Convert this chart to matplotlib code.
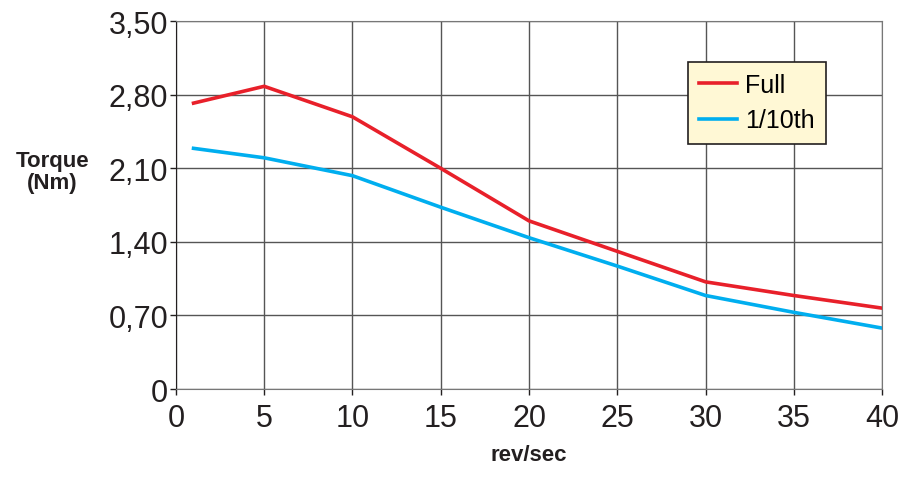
import matplotlib

matplotlib.use("Agg")
import matplotlib.pyplot as plt

# speed (rev/sec) and torque (Nm)
speed = [1, 5, 10, 15, 20, 25, 30, 35, 40]
torque_full = [2.72, 2.88, 2.59, 2.10, 1.60, 1.31, 1.02, 0.89, 0.77]
torque_tenth = [2.29, 2.20, 2.03, 1.73, 1.44, 1.17, 0.89, 0.73, 0.58]

x_ticks = [0, 5, 10, 15, 20, 25, 30, 35, 40]
y_ticks = [0, 0.70, 1.40, 2.10, 2.80, 3.50]
y_tick_labels = ["0", "0,70", "1,40", "2,10", "2,80", "3,50"]

plt.rcParams["font.family"] = ["Liberation Sans", "DejaVu Sans"]

fig = plt.figure(figsize=(9.02, 4.81), dpi=100)
ax = fig.add_axes([0.195, 0.189, 0.783, 0.765])

ax.plot(speed, torque_full, color="#e8202a", linewidth=2.6, label="Full")
ax.plot(speed, torque_tenth, color="#00aeef", linewidth=2.6, label="1/10th")

ax.set_xlim(0, 40)
ax.set_ylim(0, 3.5)
ax.set_xticks(x_ticks)
ax.set_yticks(y_ticks)
ax.set_yticklabels(y_tick_labels)
ax.tick_params(axis="both", labelsize=22, colors="#231f20", length=4, width=1)
ax.tick_params(axis="y", pad=1.5)
ax.tick_params(axis="x", pad=6)
ax.grid(True, color="#555555", linewidth=1.0)
ax.set_axisbelow(True)
for side in ["top", "right", "bottom"]:
    ax.spines[side].set_color("#777777")
ax.spines["left"].set_color("#231f20")

ax.set_xlabel("rev/sec", fontsize=16, fontweight="bold", color="#231f20", labelpad=8)
fig.text(0.058, 0.642, "Torque\n(Nm)", fontsize=16, fontweight="bold", color="#231f20",
         ha="center", va="center", linespacing=1.05)

leg = ax.legend(loc="upper left", bbox_to_anchor=(0.725, 0.889), borderaxespad=0,
                fontsize=18, frameon=True, fancybox=False, handlelength=1.5,
                borderpad=0.45, labelspacing=0.45, handletextpad=0.35)
leg.get_frame().set_facecolor("#fff8d5")
leg.get_frame().set_edgecolor("#231f20")
leg.get_frame().set_linewidth(1.2)
leg.get_frame().set_alpha(1)

fig.savefig("out.png", dpi=100)
